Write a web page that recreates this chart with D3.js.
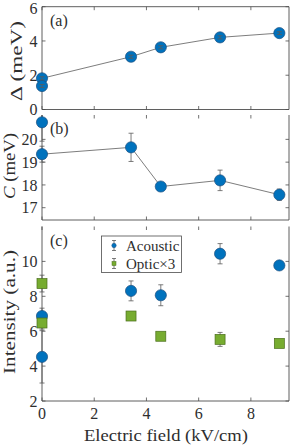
<!DOCTYPE html>
<html>
<head>
<meta charset="utf-8">
<script src="https://cdn.jsdelivr.net/npm/d3@7"></script>
<style>
  body { margin: 0; background: #fff; }
</style>
</head>
<body>
<div class="viz"></div>
<script>
// electric field values (kV/cm) — two measurements at zero field
var field = [0, 0, 3.41, 4.55, 6.82, 9.09];

// (a) gap, first point at 0 is the one joined by the line
var gap = [1.82, 1.37, 3.08, 3.63, 4.21, 4.46];
var gapErr = [0.09, 0.09, 0.09, 0.09, 0.09, 0.08];
var gapLine = [0, 2, 3, 4, 5];

// (b) C
var cVal = [20.75, 19.35, 19.65, 17.93, 18.2, 17.57];
var cErr = [0.83, 0.35, 0.62, 0.12, 0.45, 0.25];
var cLine = [1, 2, 3, 4, 5];

// (c) intensities
var acoustic = [6.87, 4.53, 8.31, 8.06, 10.44, 9.77];
var acousticErr = [0.45, 1.5, 0.57, 0.6, 0.58, 0.06];
var optic = [8.73, 6.47, 6.87, 5.71, 5.53, 5.3];
var opticErr = [0.48, 0.35, 0.15, 0.12, 0.4, 0.1];

var xTicks = [0, 2, 4, 6, 8];
var aTicks = [0, 2, 4, 6];
var bTicks = [17, 18, 19, 20];
var cTicks = [2, 4, 6, 8, 10];

var blue = "#0072BD", blueEdge = "#1d4f80";
var green = "#77AC30", greenEdge = "#4a6e1c";
var axisCol = "#4d4d4d", barCol = "#5a5a5a";
var txtCol = "#2e2e2e";
var serif = "'Liberation Serif', 'Times New Roman', serif";

var width = 291, height = 445;
var svg = d3.select('.viz').append('svg')
    .attr('width', width)
    .attr('height', height)
    .attr('font-family', serif)
    .attr('fill', txtCol);

var x = d3.scaleLinear().domain([0, 9.46]).range([42, 289]);

var panels = [
    { y: d3.scaleLinear().domain([0, 6]).range([109.5, 6.7]), ticks: aTicks, label: "(a)", top: true },
    { y: d3.scaleLinear().domain([16.46, 21.07]).range([220, 115]), ticks: bTicks, label: "(b)", top: false },
    { y: d3.scaleLinear().domain([2, 12]).range([401, 226.5]), ticks: cTicks, label: "(c)", top: false }
];

panels.forEach(function(p, i) {
    var g = svg.append('g');
    var y0 = p.y.range()[0], y1 = p.y.range()[1];
    p.g = g;

    // x ticks, inside, bottom and top
    g.selectAll('.xt').data(xTicks).enter().append('line')
        .attr('x1', d => x(d)).attr('x2', d => x(d))
        .attr('y1', y0).attr('y2', y0 - 3.5)
        .attr('stroke', axisCol).attr('stroke-width', 0.8);
    g.selectAll('.xtt').data(xTicks).enter().append('line')
        .attr('x1', d => x(d)).attr('x2', d => x(d))
        .attr('y1', y1).attr('y2', y1 + 3.5)
        .attr('stroke', axisCol).attr('stroke-width', 0.8);

    // y ticks, left and right
    g.selectAll('.yt').data(p.ticks).enter().append('line')
        .attr('x1', x.range()[0]).attr('x2', x.range()[0] + 3.5)
        .attr('y1', d => p.y(d)).attr('y2', d => p.y(d))
        .attr('stroke', axisCol).attr('stroke-width', 0.8);
    g.selectAll('.ytr').data(p.ticks).enter().append('line')
        .attr('x1', x.range()[1]).attr('x2', x.range()[1] - 3.5)
        .attr('y1', d => p.y(d)).attr('y2', d => p.y(d))
        .attr('stroke', axisCol).attr('stroke-width', 0.8);

    g.selectAll('.ytl').data(p.ticks).enter().append('text')
        .attr('x', x.range()[0] - 4.5)
        .attr('y', d => Math.max(p.y(d), 8))
        .attr('dy', '0.35em')
        .attr('text-anchor', 'end')
        .attr('font-size', 16)
        .text(d => d);

    // frame: left, bottom, right (top only on first panel)
    var frame = "M" + x.range()[0] + "," + y1 + "V" + y0 + "H" + x.range()[1] + "V" + y1;
    if (p.top) frame += "H" + x.range()[0];
    g.append('path').attr('d', frame)
        .attr('fill', 'none').attr('stroke', axisCol).attr('stroke-width', 0.9);

    g.append('text')
        .attr('x', 50).attr('y', y1 + 19)
        .attr('font-size', 16)
        .text(p.label);
});

// bottom x tick labels
svg.selectAll('.xl').data(xTicks).enter().append('text')
    .attr('x', d => x(d)).attr('y', 418.5)
    .attr('text-anchor', 'middle')
    .attr('font-size', 16)
    .text(d => d);

svg.append('text')
    .attr('x', 166).attr('y', 441)
    .attr('text-anchor', 'middle')
    .attr('font-size', 17)
    .attr('textLength', 164)
    .attr('lengthAdjust', 'spacingAndGlyphs')
    .text("Electric field (kV/cm)");

function yLabel(p, bx, mid, len, parts) {
    var t = svg.append('text')
        .attr('transform', 'translate(' + bx + ',' + mid + ') rotate(-90)')
        .attr('text-anchor', 'middle')
        .attr('font-size', 17)
        .attr('textLength', len)
        .attr('lengthAdjust', 'spacingAndGlyphs');
    parts.forEach(function(s) {
        t.append('tspan').attr('font-style', s[1] ? 'italic' : 'normal').text(s[0]);
    });
}
yLabel(panels[0], 22, 61, 80, [["Δ (meV)", false]]);
yLabel(panels[1], 15, 166, 66, [["C", true], [" (meV)", false]]);
yLabel(panels[2], 15, 312, 124, [["Intensity (a.u.)", false]]);

function drawLine(p, vals, idx) {
    var line = d3.line().x(i => x(field[i])).y(i => p.y(vals[i]));
    p.g.append('path').datum(idx).attr('d', line)
        .attr('fill', 'none').attr('stroke', '#6e6e6e').attr('stroke-width', 0.9);
}

function drawBars(p, vals, errs) {
    var g = p.g.append('g').attr('stroke', barCol).attr('stroke-width', 0.8);
    field.forEach(function(f, i) {
        var cx = x(f), top = p.y(vals[i] + errs[i]), bot = p.y(vals[i] - errs[i]);
        var clipped = top < p.y.range()[1];
        top = Math.max(top, p.y.range()[1]);
        g.append('line').attr('x1', cx).attr('x2', cx).attr('y1', top).attr('y2', bot);
        if (!clipped)
            g.append('line').attr('x1', cx - 2.5).attr('x2', cx + 2.5).attr('y1', top).attr('y2', top);
        g.append('line').attr('x1', cx - 2.5).attr('x2', cx + 2.5).attr('y1', bot).attr('y2', bot);
    });
}

function drawCircles(p, vals) {
    p.g.append('g').selectAll('circle').data(vals).enter().append('circle')
        .attr('cx', (d, i) => x(field[i])).attr('cy', d => p.y(d))
        .attr('r', 5.6)
        .attr('fill', blue).attr('stroke', blueEdge).attr('stroke-width', 0.7);
}

function drawSquares(p, vals) {
    p.g.append('g').selectAll('rect').data(vals).enter().append('rect')
        .attr('x', (d, i) => x(field[i]) - 5).attr('y', d => p.y(d) - 5)
        .attr('width', 10).attr('height', 10)
        .attr('fill', green).attr('stroke', greenEdge).attr('stroke-width', 0.7);
}

// (a)
drawLine(panels[0], gap, gapLine);
drawCircles(panels[0], gap);
drawBars(panels[0], gap, gapErr);

// (b)
drawLine(panels[1], cVal, cLine);
drawBars(panels[1], cVal, cErr);
drawCircles(panels[1], cVal);

// (c)
drawBars(panels[2], acoustic, acousticErr);
drawBars(panels[2], optic, opticErr);
drawCircles(panels[2], acoustic);
drawSquares(panels[2], optic);

// legend
var leg = svg.append('g');
leg.append('rect')
    .attr('x', 101.5).attr('y', 236).attr('width', 80).attr('height', 36.5)
    .attr('fill', '#fff').attr('stroke', axisCol).attr('stroke-width', 0.8);
var legItems = [["Acoustic", blue, blueEdge, "circle"], ["Optic×3", green, greenEdge, "square"]];
legItems.forEach(function(it, i) {
    var cy = 245.5 + i * 18, cx = 114;
    leg.append('line').attr('x1', cx).attr('x2', cx).attr('y1', cy - 5).attr('y2', cy + 5)
        .attr('stroke', barCol).attr('stroke-width', 0.8);
    leg.append('line').attr('x1', cx - 2).attr('x2', cx + 2).attr('y1', cy - 5).attr('y2', cy - 5)
        .attr('stroke', barCol).attr('stroke-width', 0.8);
    leg.append('line').attr('x1', cx - 2).attr('x2', cx + 2).attr('y1', cy + 5).attr('y2', cy + 5)
        .attr('stroke', barCol).attr('stroke-width', 0.8);
    if (it[3] === "circle")
        leg.append('circle').attr('cx', cx).attr('cy', cy).attr('r', 2.2).attr('fill', it[1]).attr('stroke', it[2]).attr('stroke-width', 0.5);
    else
        leg.append('rect').attr('x', cx - 2).attr('y', cy - 2).attr('width', 4).attr('height', 4).attr('fill', it[1]).attr('stroke', it[2]).attr('stroke-width', 0.5);
    leg.append('text').attr('x', 126).attr('y', cy).attr('dy', '0.35em')
        .attr('font-size', 15).text(it[0]);
});
</script>
</body>
</html>
